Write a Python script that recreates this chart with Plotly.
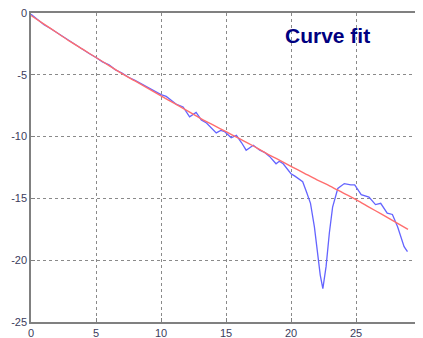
import plotly.graph_objects as go

# Fitted curve (red)
fit_x = [0, 1, 2, 3, 4, 5, 6, 7, 8, 9, 10, 11, 12, 13, 14, 15, 16, 17, 18, 19,
         20, 21, 22, 23, 24, 25, 26, 27, 28, 29]
fit_y = [-0.2, -0.9, -1.6, -2.3, -2.95, -3.6, -4.25, -4.9, -5.5, -6.1, -6.7,
         -7.3, -7.9, -8.5, -9.05, -9.6, -10.15, -10.7, -11.3, -11.85, -12.4,
         -12.95, -13.5, -14.0, -14.55, -15.1, -15.7, -16.3, -16.9, -17.5]

# Measured data (blue)
data_x = [0, 0.5, 1, 1.5, 2, 2.5, 3, 3.5, 4, 4.5, 5, 5.5, 6, 6.5, 7, 7.5, 8,
          8.5, 9, 9.5, 10, 10.4, 10.8, 11.2, 11.7, 12.2, 12.7, 13.1, 13.5,
          13.9, 14.25, 14.6, 14.9, 15.4, 15.8, 16.2, 16.55, 17.1, 17.6, 18.0,
          18.35, 18.85, 19.1, 19.4, 19.7, 20.0, 20.3, 20.6, 20.9, 21.2, 21.5,
          21.8, 22.05, 22.25, 22.45, 22.7, 22.95, 23.2, 23.6, 24.1, 24.6,
          24.9, 25.4, 25.7, 26.0, 26.5, 26.9, 27.4, 27.8, 28.2, 28.45, 28.7,
          28.96]
data_y = [-0.1, -0.55, -0.95, -1.25, -1.6, -1.95, -2.3, -2.65, -2.95, -3.3,
          -3.6, -3.95, -4.2, -4.6, -4.85, -5.2, -5.45, -5.75, -6.0, -6.35,
          -6.6, -6.75, -7.1, -7.4, -7.6, -8.4, -8.05, -8.65, -8.9, -9.3,
          -9.7, -9.5, -9.6, -10.1, -9.9, -10.5, -11.1, -10.7, -11.1, -11.3,
          -11.6, -12.2, -12.0, -12.2, -12.6, -13.0, -13.2, -13.4, -13.65,
          -14.5, -15.4, -17.3, -19.7, -21.2, -22.3, -20.5, -17.8, -15.7,
          -14.2, -13.8, -13.9, -13.9, -14.7, -14.8, -14.9, -15.5, -15.4,
          -16.2, -16.3, -17.3, -18.1, -18.9, -19.3]

x_ticks = [0, 5, 10, 15, 20, 25, 30]
x_labels = ["0", "5", "10", "15", "20", "25", "30"]
y_ticks = [0, -5, -10, -15, -20, -25]
y_labels = ["0", "-5", "-10", "-15", "-20", "-25"]

title_text = "Curve fit"

fig = go.Figure()
fig.add_trace(go.Scatter(x=data_x, y=data_y, mode="lines",
                         line=dict(color="#6464ff", width=1.3),
                         showlegend=False))
fig.add_trace(go.Scatter(x=fit_x, y=fit_y, mode="lines",
                         line=dict(color="#ff6e6e", width=1.4, shape="spline"),
                         showlegend=False))

axis_common = dict(
    showgrid=True, gridcolor="#8a8a8a", gridwidth=1, griddash="dot",
    showline=True, linecolor="#808080", linewidth=1.5, mirror=True,
    ticks="inside", ticklen=4, tickcolor="#808080",
    zeroline=False, ticklabeloverflow="allow", automargin=False,
    tickfont=dict(family="Liberation Sans, Arial, sans-serif", size=11,
                  color="#3c3c5c"),
)

fig.update_xaxes(range=[0, 30], tickmode="array", tickvals=x_ticks,
                 ticktext=x_labels, **axis_common)
fig.update_yaxes(range=[-25, 0], tickmode="array", tickvals=y_ticks,
                 ticktext=y_labels, **axis_common)

fig.add_annotation(text="<b>" + title_text + "</b>", xref="paper", yref="paper",
                   x=0.759, y=0.928, xanchor="center", yanchor="middle",
                   showarrow=False,
                   font=dict(family="Liberation Sans, Arial, sans-serif",
                             size=21, color="#000080"))

# The page body has an 8px default margin, so the figure starts at (8, 8).
fig.update_layout(
    width=415, height=330,
    margin=dict(l=23, r=2, t=5, b=16, autoexpand=False),
    plot_bgcolor="white", paper_bgcolor="white",
)

fig.write_html("out.html")
